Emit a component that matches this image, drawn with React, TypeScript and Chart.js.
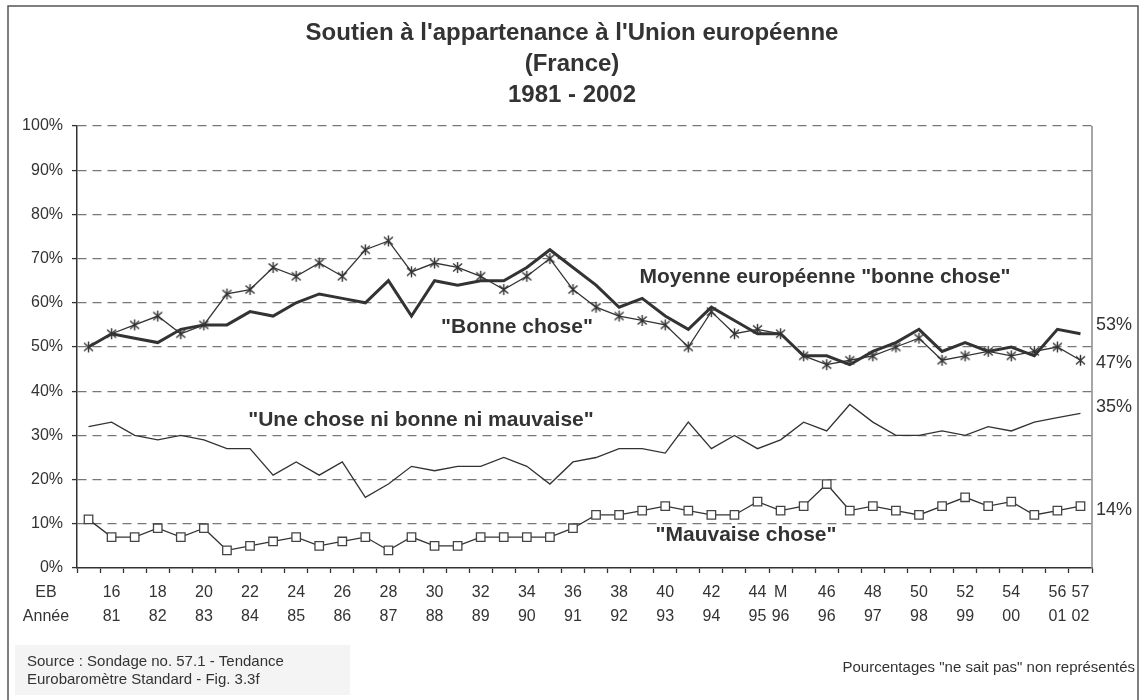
import React, { useEffect, useRef } from "react";
import { Chart, registerables } from "chart.js";

Chart.register(...registerables);

const FF = "'Liberation Sans', Arial, Helvetica, sans-serif";

const ebLabels = ["", "16", "", "18", "", "20", "", "22", "", "24", "", "26", "", "28", "", "30", "", "32", "", "34", "", "36", "", "38", "", "40", "", "42", "", "44", "M", "", "46", "", "48", "", "50", "", "52", "", "54", "", "56", "57"];
const yearLabels = ["", "81", "", "82", "", "83", "", "84", "", "85", "", "86", "", "87", "", "88", "", "89", "", "90", "", "91", "", "92", "", "93", "", "94", "", "95", "96", "", "96", "", "97", "", "98", "", "99", "", "00", "", "01", "02"];

const franceGood = [50, 53, 55, 57, 53, 55, 62, 63, 68, 66, 69, 66, 72, 74, 67, 69, 68, 66, 63, 66, 70, 63, 59, 57, 56, 55, 50, 58, 53, 54, 53, 48, 46, 47, 48, 50, 52, 47, 48, 49, 48, 49, 50, 47];
const euGood = [50, 53, 52, 51, 54, 55, 55, 58, 57, 60, 62, 61, 60, 65, 57, 65, 64, 65, 65, 68, 72, 68, 64, 59, 61, 57, 54, 59, 56, 53, 53, 48, 48, 46, 49, 51, 54, 49, 51, 49, 50, 48, 54, 53];
const neither = [32, 33, 30, 29, 30, 29, 27, 27, 21, 24, 21, 24, 16, 19, 23, 22, 23, 23, 25, 23, 19, 24, 25, 27, 27, 26, 33, 27, 30, 27, 29, 33, 31, 37, 33, 30, 30, 31, 30, 32, 31, 33, 34, 35];
const bad = [11, 7, 7, 9, 7, 9, 4, 5, 6, 7, 5, 6, 7, 4, 7, 5, 5, 7, 7, 7, 7, 9, 12, 12, 13, 14, 13, 12, 12, 15, 13, 14, 19, 13, 14, 13, 12, 14, 16, 14, 15, 12, 13, 14];

const titleLines = ["Soutien à l'appartenance à l'Union européenne", "(France)", "1981 - 2002"];
const seriesNotes = [
  { text: "Moyenne européenne \"bonne chose\"", x: 825, y: 277 },
  { text: "\"Bonne chose\"", x: 517, y: 327 },
  { text: "\"Une chose ni bonne ni mauvaise\"", x: 421, y: 420 },
  { text: "\"Mauvaise chose\"", x: 746, y: 535 },
];
const endLabels = [
  { text: "53%", y: 325 },
  { text: "47%", y: 363 },
  { text: "35%", y: 407 },
  { text: "14%", y: 510 },
];
const sourceLines = ["Source : Sondage no. 57.1 - Tendance", "Eurobaromètre Standard - Fig. 3.3f"];
const footNote = "Pourcentages \"ne sait pas\" non représentés";

function makeStar(): HTMLCanvasElement {
  const c = document.createElement("canvas");
  c.width = 13;
  c.height = 13;
  const g = c.getContext("2d")!;
  g.strokeStyle = "#333";
  g.lineWidth = 1.4;
  g.beginPath();
  g.moveTo(6.5, 1);
  g.lineTo(6.5, 12);
  g.moveTo(2, 2.5);
  g.lineTo(11, 10.5);
  g.moveTo(11, 2.5);
  g.lineTo(2, 10.5);
  g.stroke();
  return c;
}

const decor = {
  id: "decor",
  beforeDraw(chart: any) {
    const ctx = chart.ctx;
    ctx.save();
    ctx.fillStyle = "#ffffff";
    ctx.fillRect(0, 0, chart.width, chart.height);
    ctx.fillStyle = "#f4f4f4";
    ctx.fillRect(15, 645, 335, 50);
    ctx.restore();
  },
  afterDraw(chart: any) {
    const ctx = chart.ctx;
    const ca = chart.chartArea;
    ctx.save();
    ctx.strokeStyle = "#888";
    ctx.lineWidth = 1.5;
    ctx.beginPath();
    ctx.moveTo(ca.right, ca.top);
    ctx.lineTo(ca.right, ca.bottom);
    ctx.stroke();
    ctx.strokeStyle = "#555";
    ctx.lineWidth = 1.5;
    ctx.strokeRect(8, 6, 1130, 700);

    ctx.fillStyle = "#333";
    ctx.textAlign = "center";
    ctx.textBaseline = "middle";
    ctx.font = `bold 24px ${FF}`;
    titleLines.forEach((t, i) => ctx.fillText(t, 572, 33 + i * 31));

    ctx.font = `bold 21px ${FF}`;
    seriesNotes.forEach((n) => ctx.fillText(n.text, n.x, n.y));

    ctx.font = `16px ${FF}`;
    ctx.fillText("EB", 46, 593);
    ctx.fillText("Année", 46, 617);

    ctx.textAlign = "left";
    ctx.font = `18px ${FF}`;
    endLabels.forEach((l) => ctx.fillText(l.text, 1096, l.y));

    ctx.font = `15px ${FF}`;
    sourceLines.forEach((t, i) => ctx.fillText(t, 27, 662 + i * 18));
    ctx.textAlign = "right";
    ctx.fillText(footNote, 1135, 668);
    ctx.restore();
  },
};

export default function App() {
  const ref = useRef<HTMLCanvasElement>(null);
  useEffect(() => {
    if (!ref.current) return;
    const star = makeStar();
    const labels = ebLabels.map((e, i) => [e, yearLabels[i]]);
    const chart = new Chart(ref.current, {
      type: "line",
      data: {
        labels,
        datasets: [
          {
            label: "Moyenne européenne \"bonne chose\"",
            data: euGood,
            borderColor: "#333",
            borderWidth: 3,
            pointRadius: 0,
            tension: 0,
          },
          {
            label: "Bonne chose",
            data: franceGood,
            borderColor: "#333",
            borderWidth: 1.3,
            pointStyle: star as any,
            pointRadius: 6,
            tension: 0,
          },
          {
            label: "Une chose ni bonne ni mauvaise",
            data: neither,
            borderColor: "#333",
            borderWidth: 1.3,
            pointRadius: 0,
            tension: 0,
          },
          {
            label: "Mauvaise chose",
            data: bad,
            borderColor: "#333",
            borderWidth: 1.3,
            pointStyle: "rect",
            pointRadius: 6,
            pointBackgroundColor: "#ffffff",
            pointBorderColor: "#444",
            pointBorderWidth: 1.3,
            tension: 0,
          },
        ],
      },
      options: {
        animation: false,
        responsive: false,
        layout: { padding: { top: 126, right: 52, left: 0, bottom: 0 } },
        plugins: { legend: { display: false }, tooltip: { enabled: false }, title: { display: false } },
        scales: {
          x: {
            offset: true,
            grid: {
              offset: true,
              drawOnChartArea: false,
              drawTicks: true,
              tickLength: 5,
              tickColor: "#333",
              tickWidth: 1.3,
            },
            border: { display: true, color: "#333", width: 1.5 },
            ticks: {
              autoSkip: false,
              maxRotation: 0,
              minRotation: 0,
              padding: 8,
              color: "#333",
              font: { family: FF, size: 16, lineHeight: 1.5 },
            },
            afterFit(scale: any) {
              scale.height = 132;
            },
          },
          y: {
            min: 0,
            max: 100,
            ticks: {
              stepSize: 10,
              padding: 9,
              color: "#333",
              font: { family: FF, size: 16 },
              callback: (v: any) => v + "%",
            },
            grid: {
              color: (c: any) => (c.tick && c.tick.value === 0 ? "rgba(0,0,0,0)" : "#777"),
              lineWidth: 1.2,
              tickLength: 5,
              tickColor: "#333",
              tickWidth: 1.3,
            },
            border: { display: true, color: "#333", width: 1.5, dash: [9, 6] },
            afterFit(scale: any) {
              scale.width = 77;
            },
          },
        },
      },
      plugins: [decor],
    });
    return () => chart.destroy();
  }, []);
  return (
    <div style={{ position: "absolute", left: 0, top: 0, width: 1144, height: 700, background: "#fff" }}>
      <canvas ref={ref} width={1144} height={700} style={{ display: "block" }} />
    </div>
  );
}
